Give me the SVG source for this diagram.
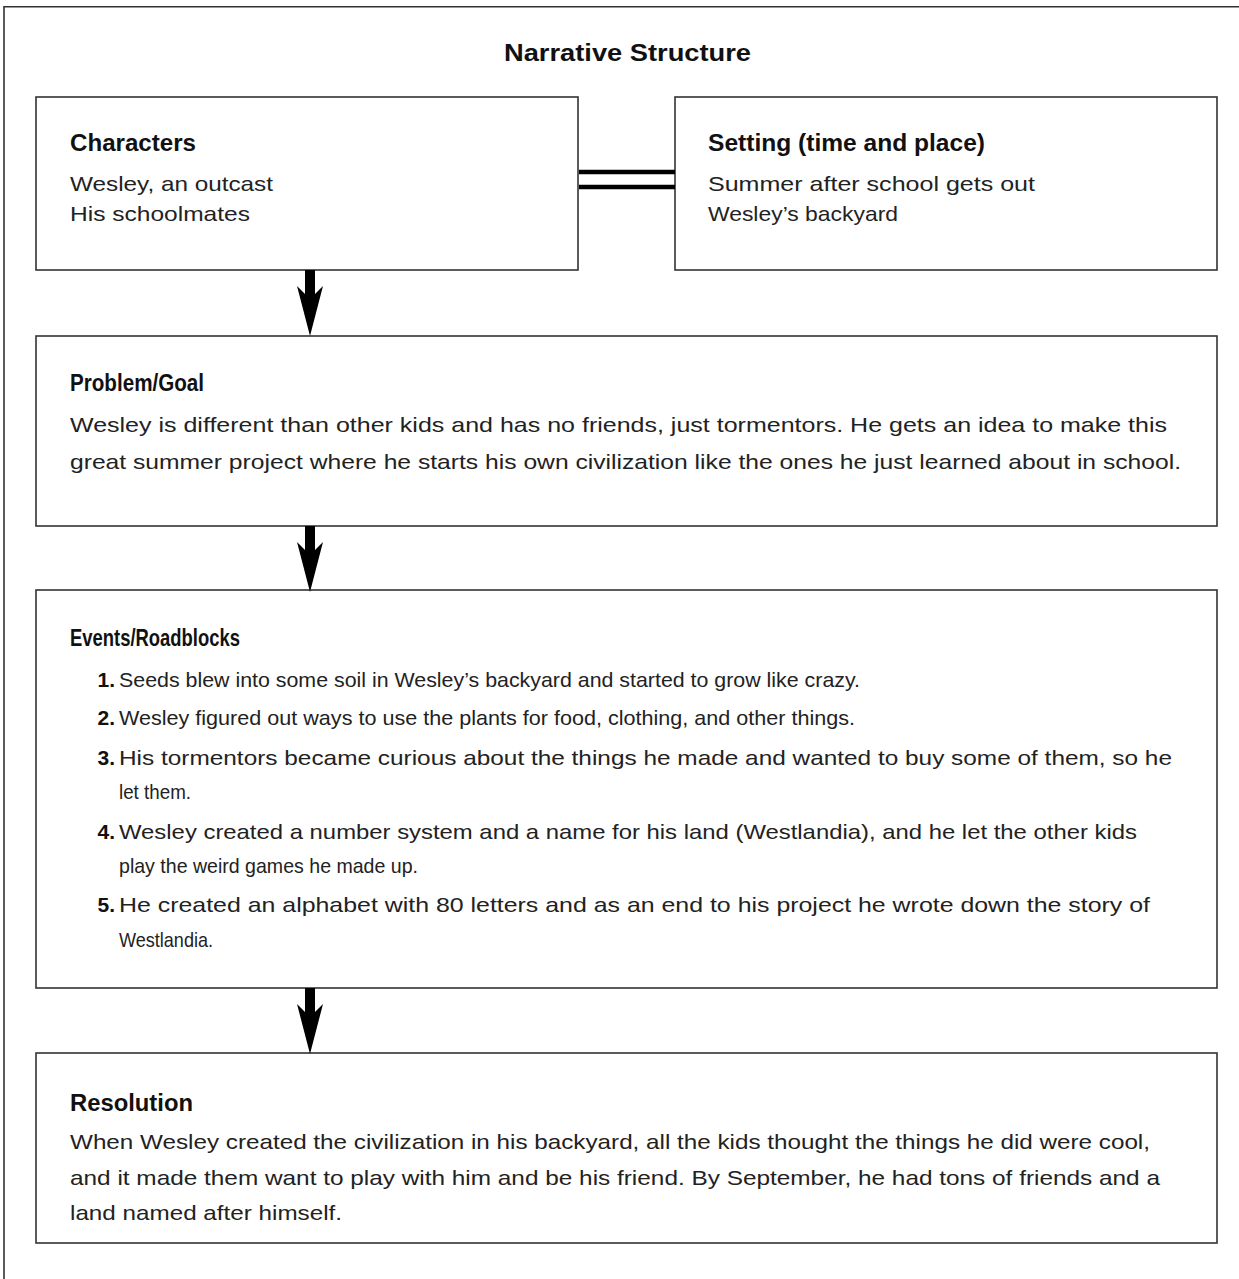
<svg xmlns="http://www.w3.org/2000/svg" width="1239" height="1279" viewBox="0 0 1239 1279">
<style>
.box{fill:#fff;stroke:#333;stroke-width:1.6}
.h{font-family:"Liberation Sans",Arial,sans-serif;font-weight:bold;font-size:23px;fill:#111}
.t{font-family:"Liberation Sans",Arial,sans-serif;font-size:21px;fill:#222}
.n{font-family:"Liberation Sans",Arial,sans-serif;font-weight:bold;font-size:21px;fill:#111;text-anchor:end}
.frame{fill:none;stroke:#333;stroke-width:1.6}
.dl{stroke:#000;stroke-width:4.5}
</style>
<defs>
<path id="arr" d="M-5,0 H5 V24 L13,16 L0,66 L-13,16 L-5,24 Z" fill="#000"/>
</defs>
<rect width="1239" height="1279" fill="#fff"/>
<path class="frame" d="M4,1279 V6.7 H1239"/>
<text class="h" x="504" y="61" font-size="24" textLength="247" lengthAdjust="spacingAndGlyphs">Narrative Structure</text>

<g id="characters">
<rect class="box" x="36" y="97" width="542" height="173"/>
<text class="h" x="70" y="151" textLength="126" lengthAdjust="spacingAndGlyphs">Characters</text>
<text class="t" x="70" y="191" textLength="203" lengthAdjust="spacingAndGlyphs">Wesley, an outcast</text>
<text class="t" x="70" y="221" textLength="180" lengthAdjust="spacingAndGlyphs">His schoolmates</text>
</g>

<g id="setting">
<rect class="box" x="675" y="97" width="542" height="173"/>
<text class="h" x="708" y="151" textLength="277" lengthAdjust="spacingAndGlyphs">Setting (time and place)</text>
<text class="t" x="708" y="191" textLength="327" lengthAdjust="spacingAndGlyphs">Summer after school gets out</text>
<text class="t" x="708" y="221" textLength="190" lengthAdjust="spacingAndGlyphs">Wesley’s backyard</text>
</g>

<g id="problem">
<rect class="box" x="36" y="336" width="1181" height="190"/>
<text class="h" x="70" y="391" textLength="134" lengthAdjust="spacingAndGlyphs">Problem/Goal</text>
<text class="t" x="70" y="432" textLength="1097" lengthAdjust="spacingAndGlyphs">Wesley is different than other kids and has no friends, just tormentors. He gets an idea to make this</text>
<text class="t" x="70" y="469" textLength="1111" lengthAdjust="spacingAndGlyphs">great summer project where he starts his own civilization like the ones he just learned about in school.</text>
</g>

<g id="events">
<rect class="box" x="36" y="590" width="1181" height="398"/>
<text class="h" x="70" y="646" textLength="170" lengthAdjust="spacingAndGlyphs">Events/Roadblocks</text>
<text class="n" x="115" y="687">1.</text>
<text class="t" x="119" y="687" textLength="741" lengthAdjust="spacingAndGlyphs">Seeds blew into some soil in Wesley’s backyard and started to grow like crazy.</text>
<text class="n" x="115" y="725">2.</text>
<text class="t" x="119" y="725" textLength="736" lengthAdjust="spacingAndGlyphs">Wesley figured out ways to use the plants for food, clothing, and other things.</text>
<text class="n" x="115" y="765">3.</text>
<text class="t" x="119" y="765" textLength="1053" lengthAdjust="spacingAndGlyphs">His tormentors became curious about the things he made and wanted to buy some of them, so he</text>
<text class="t" x="119" y="799" textLength="72" lengthAdjust="spacingAndGlyphs">let them.</text>
<text class="n" x="115" y="839">4.</text>
<text class="t" x="119" y="839" textLength="1018" lengthAdjust="spacingAndGlyphs">Wesley created a number system and a name for his land (Westlandia), and he let the other kids</text>
<text class="t" x="119" y="873" textLength="299" lengthAdjust="spacingAndGlyphs">play the weird games he made up.</text>
<text class="n" x="115" y="912">5.</text>
<text class="t" x="119" y="912" textLength="1031" lengthAdjust="spacingAndGlyphs">He created an alphabet with 80 letters and as an end to his project he wrote down the story of</text>
<text class="t" x="119" y="947" textLength="94" lengthAdjust="spacingAndGlyphs">Westlandia.</text>
</g>

<g id="resolution">
<rect class="box" x="36" y="1053" width="1181" height="190"/>
<text class="h" x="70" y="1111" textLength="123" lengthAdjust="spacingAndGlyphs">Resolution</text>
<text class="t" x="70" y="1149" textLength="1080" lengthAdjust="spacingAndGlyphs">When Wesley created the civilization in his backyard, all the kids thought the things he did were cool,</text>
<text class="t" x="70" y="1185" textLength="1090" lengthAdjust="spacingAndGlyphs">and it made them want to play with him and be his friend. By September, he had tons of friends and a</text>
<text class="t" x="70" y="1220" textLength="272" lengthAdjust="spacingAndGlyphs">land named after himself.</text>
</g>

<g id="connectors">
<line class="dl" x1="579" y1="172" x2="675" y2="172"/>
<line class="dl" x1="579" y1="187" x2="675" y2="187"/>
<use href="#arr" transform="translate(310,270)"/>
<use href="#arr" transform="translate(310,526)"/>
<use href="#arr" transform="translate(310,988)"/>
</g>
</svg>
